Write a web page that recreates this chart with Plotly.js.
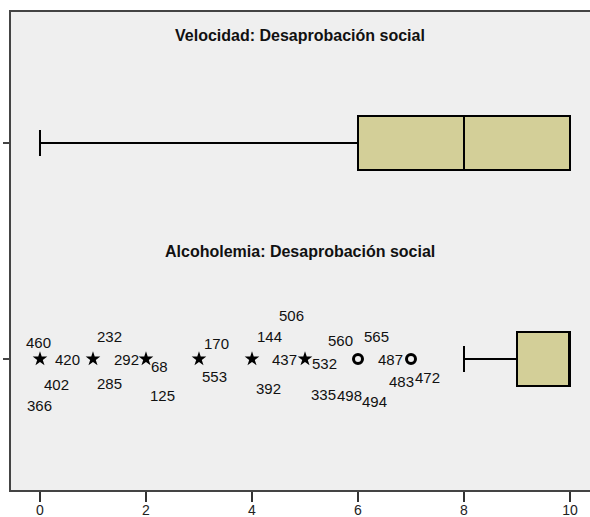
<!DOCTYPE html>
<html>
<head>
<meta charset="utf-8">
<script src="https://cdn.plot.ly/plotly-3.0.1.min.js"></script>
<style>
  html, body { margin: 0; padding: 0; overflow: hidden; background: #fff; }
  #chart { width: 600px; height: 517px; }
</style>
</head>
<body>
<div id="chart"></div>
<script>
// Box plot summaries (scale 0-10)
const groups = ['Velocidad: Desaprobación social', 'Alcoholemia: Desaprobación social'];
const lowerFence = [0, 8];
const q1 = [6, 9];
const median = [8, 10];
const q3 = [10, 10];
const upperFence = [10, 10];

// Alcoholemia: extreme values (stars) and outliers (circles)
const extremeValues = [0, 1, 2, 3, 4, 5];
const outlierValues = [6, 7];

// Case numbers printed beside the atypical points, with the value each belongs to
const caseIds    = ['460', '420', '402', '366', '232', '285', '292', '68', '125', '170', '553',
                    '144', '392', '437', '506', '532', '560', '335', '498', '565', '487', '494', '483', '472'];
const caseValues = [0, 0, 0, 0, 1, 1, 1, 2, 2, 3, 3,
                    4, 4, 4, 5, 5, 5, 5, 5, 6, 6, 6, 7, 7];

const xTicks = [0, 2, 4, 6, 8, 10];

// vertical slot of each group on the y axis
const POS = [1, 0];
const ALC = POS[1];

// pixel offsets of each case label from its point
const labelShift = [
  [-1, 17], [28, 0], [17, -25], [0, -46],
  [17, 23], [17, -24], [34, 0],
  [14, -7], [17, -36],
  [18, 16], [16, -17],
  [17, 23], [16, -29], [32, 0],
  [-14, 44], [19, -4], [35, 19], [18, -35], [44, -36],
  [18, 23], [32, 0], [16, -42],
  [-10, -22], [16, -18]
];

const boxFill = '#d3cf98';
const traces = groups.map((g, i) => ({
  type: 'box',
  orientation: 'h',
  name: g,
  y: [POS[i]],
  q1: [q1[i]],
  median: [median[i]],
  q3: [q3[i]],
  lowerfence: [lowerFence[i]],
  upperfence: [upperFence[i]],
  width: 0.25,
  whiskerwidth: 0.48,
  boxpoints: false,
  fillcolor: boxFill,
  line: { color: '#000', width: 2 },
  hoverinfo: 'skip'
}));

traces.push({
  type: 'scatter',
  mode: 'markers',
  x: extremeValues,
  y: extremeValues.map(() => ALC),
  marker: { symbol: 'star', size: 11, color: '#000', line: { width: 0 } },
  hoverinfo: 'skip'
});
traces.push({
  type: 'scatter',
  mode: 'markers',
  x: outlierValues,
  y: outlierValues.map(() => ALC),
  marker: { symbol: 'circle-open', size: 9, color: '#000', line: { width: 3, color: '#000' } },
  hoverinfo: 'skip'
});

const labelFont = { family: 'Liberation Sans, Arial, sans-serif', size: 15, color: '#111' };
const annotations = caseIds.map((id, k) => ({
  x: caseValues[k], y: ALC, xref: 'x', yref: 'y',
  text: id, showarrow: false,
  xshift: labelShift[k][0], yshift: labelShift[k][1],
  font: labelFont
}));

const titleFont = { family: 'Liberation Sans, Arial, sans-serif', size: 16, color: '#111' };
const titleY = [1.5, 0.5];
groups.forEach((g, i) => {
  annotations.push({
    x: 4.906, y: titleY[i], xref: 'x', yref: 'y',
    text: '<b>' + g + '</b>', showarrow: false, font: titleFont
  });
});

const layout = {
  width: 600,
  height: 517,
  margin: { l: 11, r: 0, t: 12, b: 27, pad: 0 },
  paper_bgcolor: '#ffffff',
  plot_bgcolor: '#efefef',
  showlegend: false,
  xaxis: {
    range: [-0.547, 10.566],
    tickvals: xTicks,
    ticktext: xTicks.map(String),
    ticks: 'outside', ticklen: 10, tickwidth: 2, tickcolor: '#333',
    ticklabelstandoff: -4,
    showline: true, linecolor: '#444', linewidth: 2, mirror: true,
    showgrid: false, zeroline: false,
    tickfont: { family: 'Liberation Sans, Arial, sans-serif', size: 14, color: '#222' }
  },
  yaxis: {
    range: [-0.6065, 1.6065],
    tickvals: POS,
    showticklabels: false,
    ticks: 'outside', ticklen: 6, tickwidth: 2, tickcolor: '#444',
    showline: true, linecolor: '#444', linewidth: 2,
    showgrid: false, zeroline: false, fixedrange: true
  },
  annotations: annotations
};

Plotly.newPlot('chart', traces, layout, { staticPlot: true, displayModeBar: false });
</script>
</body>
</html>
